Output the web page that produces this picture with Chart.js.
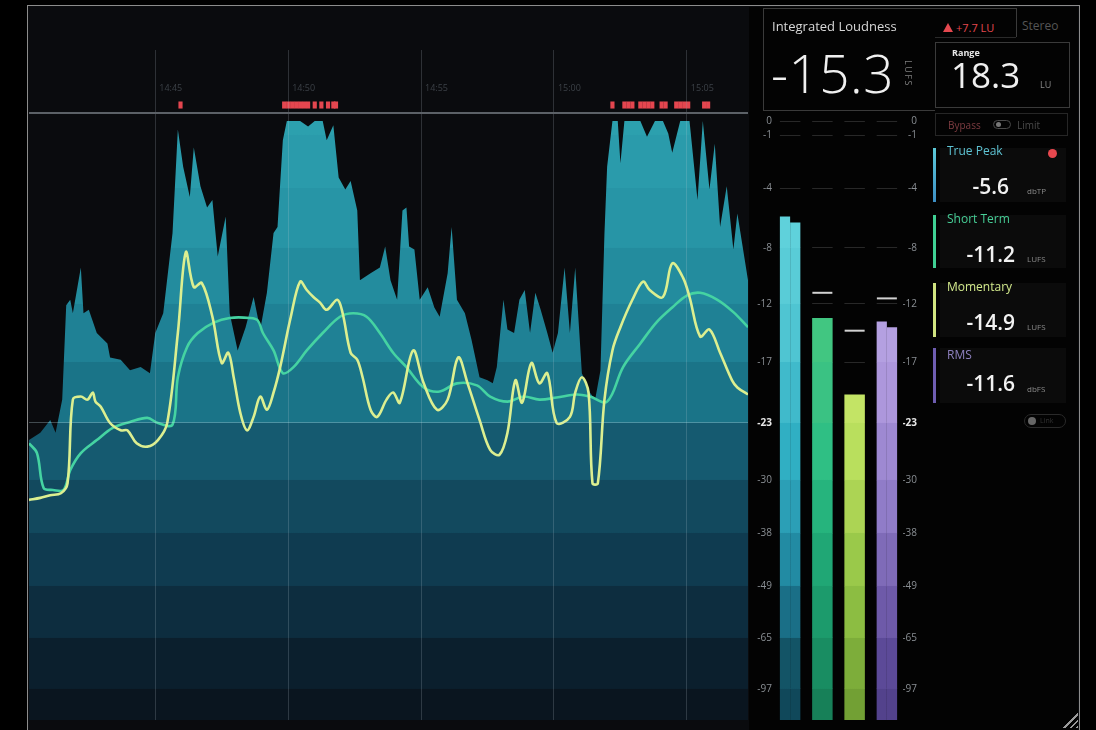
<!DOCTYPE html>
<html>
<head>
<meta charset="utf-8">
<script src="https://cdn.jsdelivr.net/npm/chart.js@4.4.1/dist/chart.umd.min.js"></script>
<style>
html,body{margin:0;padding:0;background:#000;width:1096px;height:730px;overflow:hidden;}
#root{position:relative;width:1096px;height:730px;overflow:hidden;background:#000;font-family:"Open Sans",sans-serif;}
.abs{position:absolute;line-height:1;white-space:nowrap;}
#panel{position:absolute;left:27px;top:5px;width:1053px;height:740px;border:1.5px solid #8c8c8c;box-sizing:border-box;background:#0a0b0e;}
#rightbg{position:absolute;left:749px;top:7px;width:329px;height:723px;background:#030303;}
canvas{position:absolute;}
.ln{position:absolute;background:#3a3a3a;}
.rbox{position:absolute;left:940px;width:126px;background:rgba(255,255,255,0.035);}
.cbar{position:absolute;left:933px;width:3px;}
.lbl{font-size:12px;}
.val{font-size:21px;font-weight:600;color:#f2f2f2;text-align:right;}
.unit{font-size:8px;color:#8a8a8a;}
</style>
</head>
<body>
<div id="root">
  <div id="panel"></div>
  <div id="rightbg"></div>

  <canvas id="hist" width="719" height="670" style="left:29px;top:50px;"></canvas>
  <canvas id="meter" width="171" height="670" style="left:746px;top:50px;"></canvas>

  <!-- header box -->
  <div class="ln" style="left:763px;top:8px;width:253px;height:1px;"></div>
  <div class="ln" style="left:763px;top:8px;width:1px;height:102px;"></div>
  <div class="ln" style="left:1016px;top:8px;width:1px;height:29px;"></div>
  <div class="ln" style="left:763px;top:110px;width:172px;height:1px;"></div>
  <div class="ln" style="left:935px;top:37px;width:81px;height:1px;background:#2a2a2a"></div>
  <div style="position:absolute;left:935px;top:42px;width:135px;height:66px;border:1px solid #3a3a3a;box-sizing:border-box;"></div>
  <div style="position:absolute;left:935px;top:113px;width:133px;height:23px;border:1px solid #262626;box-sizing:border-box;"></div>

  <div class="abs" style="left:772px;top:20px;font-size:13px;color:#d8d8d8;">Integrated Loudness</div>
  <div style="position:absolute;left:943px;top:23px;width:0;height:0;border-left:5px solid transparent;border-right:5px solid transparent;border-bottom:9px solid #e5484f;"></div>
  <div class="abs" style="left:956px;top:22px;font-size:11px;color:#e5484f;">+7.7 LU</div>
  <div class="abs" style="left:1022px;top:20px;font-size:12px;color:#555;">Stereo</div>

  <div class="abs" style="left:771px;top:46px;font-size:53px;font-weight:300;color:#f0f0f0;letter-spacing:0.5px;">-15.3</div>
  <div class="abs" style="left:904px;top:60px;font-size:9px;color:#7d7d7d;writing-mode:vertical-rl;letter-spacing:1.5px;">LUFS</div>

  <div class="abs" style="left:952px;top:48px;font-size:9px;font-weight:700;color:#e8e8e8;">Range</div>
  <div class="abs" style="left:951px;top:57px;font-size:35px;color:#f0f0f0;">18.3</div>
  <div class="abs" style="left:1040px;top:80px;font-size:9px;color:#888;">LU</div>

  <div class="abs" style="left:948px;top:120px;font-size:10px;color:#7f3d42;">Bypass</div>
  <div style="position:absolute;left:993px;top:120px;width:18px;height:9px;border:1px solid #4a4a4a;border-radius:5px;box-sizing:border-box;"></div>
  <div style="position:absolute;left:996px;top:122px;width:5px;height:5px;border-radius:50%;background:#777;"></div>
  <div class="abs" style="left:1017px;top:120px;font-size:10px;color:#4a4a4a;">Limit</div>

  <!-- readouts -->
  <div class="rbox" style="top:148px;height:54px;"></div>
  <div class="rbox" style="top:215px;height:53px;"></div>
  <div class="rbox" style="top:283px;height:54px;"></div>
  <div class="rbox" style="top:348px;height:55px;"></div>

  <div class="cbar" style="top:148px;height:54px;background:linear-gradient(#5cc9d8,#3c8ec4);"></div>
  <div class="cbar" style="top:215px;height:53px;background:#3fcf93;"></div>
  <div class="cbar" style="top:283px;height:54px;background:#cfe27f;"></div>
  <div class="cbar" style="top:348px;height:55px;background:#6d5cb0;"></div>

  <div class="abs lbl" style="left:947px;top:145px;color:#5ec4d4;">True Peak</div>
  <div style="position:absolute;left:1048px;top:149px;width:9px;height:9px;border-radius:50%;background:#e8484f;"></div>
  <div class="abs val" style="right:87px;top:176px;">-5.6</div>
  <div class="abs unit" style="left:1027px;top:187px;">dbTP</div>

  <div class="abs lbl" style="left:947px;top:213px;color:#47cf97;">Short Term</div>
  <div class="abs val" style="right:81px;top:244px;">-11.2</div>
  <div class="abs unit" style="left:1027px;top:255px;">LUFS</div>

  <div class="abs lbl" style="left:947px;top:281px;color:#d3ea8c;">Momentary</div>
  <div class="abs val" style="right:81px;top:312px;">-14.9</div>
  <div class="abs unit" style="left:1027px;top:323px;">LUFS</div>

  <div class="abs lbl" style="left:947px;top:349px;color:#8f82c0;">RMS</div>
  <div class="abs val" style="right:81px;top:373px;">-11.6</div>
  <div class="abs unit" style="left:1027px;top:385px;">dbFS</div>

  <div style="position:absolute;left:1024px;top:414px;width:42px;height:14px;border:1px solid #2a2a2a;border-radius:7px;box-sizing:border-box;"></div>
  <div style="position:absolute;left:1028px;top:417px;width:8px;height:8px;border-radius:50%;background:#666;"></div>
  <div class="abs" style="left:1040px;top:417px;font-size:7px;color:#333;">Link</div>

  <div style="position:absolute;left:1062px;top:712px;width:16px;height:16px;background:repeating-linear-gradient(135deg,transparent 0 3px,#9a9a9a 3px 4.5px);clip-path:polygon(100% 0,100% 100%,0 100%);"></div>
</div>

<script>
// ---------------- DATA ----------------
// time in seconds along the history, values in dB / LUFS
const peakTimes = [0.5,1.35,2.1,2.5,3.0,3.3,3.6,3.8,4.4,4.6,5.0,5.6,6.4,6.6,7.4,8.1,8.9,9.6,10.0,10.6,11.3,11.7,12.1,12.6,12.9,13.4,13.9,14.3,14.7,15.3,15.6,16.2,16.8,17.4,17.9,18.4,18.9,19.2,19.6,19.9,20.9,21.5,22.0,22.6,22.9,23.4,23.8,24.3,24.7,25.2,25.4,26.2,26.9,27.3,27.7,28.2,28.6,28.9,29.1,29.5,29.9,30.5,31.0,31.4,32.0,32.3,32.7,33.3,33.8,34.4,35.0,35.4,35.7,36.2,36.5,37.0,37.4,37.8,38.2,38.6,39.0,39.5,39.9,40.3,40.8,41.2,41.6,42.1,42.7,43.1,43.5,43.8,44.0,44.4,44.8,45.0,45.3,46.5,47.0,47.6,48.2,48.6,48.9,49.5,50.2,50.8,51.2,51.7,52.1,52.5,53.0,53.5,53.8,54.6];
const peakValues = [-25.1,-24.2,-22.7,-24.2,-20.7,-12.1,-11.7,-12.8,-9.4,-12.8,-12.5,-14.5,-15.4,-16.6,-16.8,-17.8,-17.5,-18.1,-14.5,-12.8,-7.0,-0.6,-2.8,-4.6,-1.7,-3.9,-5.3,-4.8,-8.6,-5.9,-12.8,-16.0,-14.0,-11.5,-14.2,-11.2,-7.0,-6.6,-1.3,0,0,-0.4,0,0,-1.3,-0.3,-3.4,-4.1,-3.6,-5.5,-10.3,-9.8,-9.4,-7.9,-10.3,-11.7,-5.5,-5.3,-7.9,-8.1,-11.7,-10.8,-12.3,-13.1,-9.8,-6.6,-11.7,-12.8,-15.1,-18.5,-18.8,-19.1,-17.5,-11.7,-14.2,-14.5,-11.7,-11.0,-14.5,-11.2,-12.5,-14.5,-16.2,-14.5,-9.4,-14.5,-9.4,-18.1,-20.0,-20.7,-17.8,-7.0,-2.8,0,0,-2.6,0,0,-1.1,0,0,-0.9,-2.0,0,0,-4.8,0,-4.1,-1.5,-6.6,-3.9,-8.1,-5.7,-10.3];

const momTimes = [0.5,1.35,2.1,2.9,3.4,3.8,4.4,4.9,5.3,5.5,5.9,6.6,7.4,7.9,8.6,9.4,10.2,10.9,11.7,12.3,12.9,13.5,14.3,15.0,15.5,15.9,16.4,16.9,17.4,17.9,18.4,18.9,19.4,20.2,20.9,21.4,21.9,22.4,22.9,23.7,24.1,24.7,25.2,25.6,26.2,26.7,27.4,27.9,28.4,29.4,30.2,31.2,32.0,32.8,33.5,34.4,35.2,35.9,36.5,37.1,37.6,38.3,38.9,39.5,40.2,41.2,41.6,42.1,42.6,42.9,43.3,43.8,44.4,45.0,45.9,46.7,47.2,48.2,48.9,49.7,50.2,51.0,51.7,52.5,53.4,53.8,54.6];
const momValues = [-33.0,-32.7,-32.3,-32.0,-30.5,-20.7,-20.4,-20.7,-20.0,-20.9,-21.4,-23.0,-23.9,-23.9,-25.5,-25.9,-25.1,-23.0,-14.5,-8.3,-10.8,-10.5,-13.1,-17.1,-16.2,-18.5,-22.0,-23.9,-22.4,-20.4,-21.7,-20.0,-17.5,-13.1,-10.4,-11.0,-11.5,-11.9,-12.5,-11.7,-12.8,-16.2,-16.8,-18.5,-21.7,-22.4,-20.7,-20.0,-21.0,-16.0,-19.1,-21.7,-20.7,-16.6,-19.1,-22.7,-26.3,-26.9,-24.2,-18.8,-21.0,-17.1,-19.1,-18.1,-23.0,-22.4,-20.0,-18.5,-20.0,-30.5,-30.5,-20.7,-16.0,-14.0,-11.7,-10.4,-11.0,-11.5,-9.1,-10.1,-11.5,-14.8,-14.2,-16.2,-18.8,-19.5,-20.2];

const stTimes = [0.5,1.1,1.6,2.3,3.1,3.6,4.4,5.6,6.8,8.1,9.4,10.2,11.3,11.7,12.4,13.2,14.4,15.6,17.1,17.7,18.1,18.9,19.6,20.4,21.4,22.6,23.9,24.9,25.9,26.9,27.9,28.9,30.2,31.4,32.7,34.2,35.2,36.5,37.7,38.9,40.2,41.7,42.7,44.0,45.2,46.5,47.7,48.9,50.0,51.0,52.3,53.5,54.6];
const stValues = [-25.5,-26.7,-31.2,-31.5,-31.5,-28.8,-26.7,-25.1,-23.6,-22.9,-22.5,-23.0,-23.2,-18.5,-15.7,-14.5,-13.6,-13.2,-13.2,-13.4,-14.5,-16.0,-18.1,-17.5,-16.0,-14.5,-13.1,-12.8,-13.1,-14.5,-16.2,-17.5,-19.5,-19.9,-19.1,-19.3,-20.4,-20.9,-20.4,-20.7,-20.5,-20.2,-20.4,-20.9,-17.5,-15.4,-13.6,-12.3,-11.4,-11.2,-11.7,-12.7,-14.0];

// times where the true peak went over
const overTimes = [11.9,19.7,20.0,20.3,20.6,20.9,21.2,21.5,22.0,22.5,23.0,23.4,23.6,44.4,45.3,45.6,45.9,46.5,46.8,47.1,47.4,48.1,48.4,49.2,49.5,49.8,50.1,51.3,51.6];

const gridTimes = [10,20,30,40,50];
const timeLabels = ["14:45","14:50","14:55","15:00","15:05"];

const meterTickValues = [0,-1,-4,-8,-12,-17,-23,-30,-38,-49,-65,-97];
const meterLabels = ["True Peak","Short Term","Momentary","RMS"];
const meterLeft  = [-5.9,-13.2,-20.2,-13.5];
const meterRight = [-6.3,null,null,-14.0];
const meterHold  = [null,-11.2,-14.3,-11.6];

// ---------------- SCALE / STYLE ----------------
const SCALE_MAX = 8.875, SCALE_MIN = -200;
const SCALE_BREAKS = [[8.875,0],[0,0.106],[-1,0.1269],[-4,0.206],[-8,0.2955],[-12,0.3791],[-17,0.4657],[-23,0.5567],[-30,0.6418],[-38,0.7209],[-49,0.8],[-65,0.8776],[-97,0.9537],[-200,1]];
const BAND_EDGES = [0,-1,-4,-8,-12,-17,-23,-30,-38,-49,-65,-97];
const OVER_ROW = [1.6,2.4];

const histColors = ['#2ca0ae','#2ca0ae','#2a9bab','#2795a6','#238c9e','#1f8195','#1a7488','#155a70','#12495e','#0f3b50','#0d2d3f','#0b1f2d','#0a151f'];
const meterColorSets = [
  ['#66d8e0','#66d8e0','#63d5de','#5fd1db','#59ccd7','#4fc5d2','#40bacb','#30afc3','#2b9fb6','#228ba3','#1a6f87','#135466','#10485a'],
  ['#4acc84','#4acc84','#4acc84','#48cb83','#46c982','#41c681','#3ac283','#2fbf84','#26b47d','#20a775','#1c9b6c','#198d62','#178058'],
  ['#cdea6e','#cdea6e','#cdea6e','#cdea6e','#cbe96c','#c9e86a','#c3e465','#b9df5d','#acd454','#9ac94a','#8cbd42','#7dad3a','#72a034'],
  ['#bba6e5','#bba6e5','#bba6e5','#b9a5e4','#b8a3e3','#b4a0e1','#ad97dc','#9e89d2','#907cc8','#7f6bb8','#6e5aa9','#5c4a98','#53428c']
];

class MeterScale extends Chart.LinearScale {
  determineDataLimits() { this.min = this.options.min; this.max = this.options.max; }
  buildTicks() { return this.options.tickValues.map(v => ({ value: v })); }
  _frac(value) {
    const bp = this.options.breakpoints;
    if (value >= bp[0][0]) return bp[0][1];
    if (value <= bp[bp.length - 1][0]) return bp[bp.length - 1][1];
    for (let i = 0; i < bp.length - 1; i++) {
      const [v0, f0] = bp[i], [v1, f1] = bp[i + 1];
      if (value <= v0 && value >= v1) return f0 + (f1 - f0) * (v0 - value) / (v0 - v1);
    }
    return 1;
  }
  getPixelForValue(value) { return this.top + this._frac(value) * (this.bottom - this.top); }
  getValueForPixel(pixel) {
    const f = (pixel - this.top) / (this.bottom - this.top);
    const bp = this.options.breakpoints;
    for (let i = 0; i < bp.length - 1; i++) {
      const [v0, f0] = bp[i], [v1, f1] = bp[i + 1];
      if (f >= f0 && f <= f1) return v0 - (v0 - v1) * (f - f0) / (f1 - f0);
    }
    return f < 0 ? bp[0][0] : bp[bp.length - 1][0];
  }
}
MeterScale.id = 'meter';
MeterScale.defaults = {};
Chart.register(MeterScale);

Chart.defaults.font.family = '"Open Sans", sans-serif';

function bandGradient(chart, colors) {
  const { ctx, chartArea, scales } = chart;
  if (!chartArea) return colors[0];
  const y = scales.y;
  const top = chartArea.top, h = chartArea.bottom - chartArea.top;
  const edges = [y.max, ...BAND_EDGES, y.min];
  const g = ctx.createLinearGradient(0, top, 0, chartArea.bottom);
  for (let i = 0; i < edges.length - 1; i++) {
    const a = Math.min(1, Math.max(0, (y.getPixelForValue(edges[i]) - top) / h));
    const b = Math.min(1, Math.max(0, (y.getPixelForValue(edges[i + 1]) - top) / h));
    g.addColorStop(a, colors[i]);
    g.addColorStop(Math.max(a, b - 0.0008), colors[i]);
  }
  return g;
}

const zip = (xs, ys) => xs.map((x, i) => ({ x, y: ys[i] }));

const timeLabelPlugin = {
  id: 'timeLabels',
  afterDraw(chart) {
    const { ctx, scales: { x } } = chart;
    ctx.save();
    ctx.font = '9px "Open Sans", sans-serif';
    ctx.fillStyle = '#3c4147';
    ctx.textBaseline = 'middle';
    x.ticks.forEach((t, i) => {
      if (timeLabels[i]) ctx.fillText(timeLabels[i], x.getPixelForValue(t.value) + 4, 38);
    });
    ctx.restore();
  }
};

// ---------------- HISTORY CHART ----------------
new Chart(document.getElementById('hist'), {
  type: 'line',
  data: {
    datasets: [
      { label: 'Momentary', data: zip(momTimes, momValues), borderColor: '#dcef90', borderWidth: 2.6,
        pointRadius: 0, tension: 0.35, fill: false, order: 0 },
      { label: 'Short Term', data: zip(stTimes, stValues), borderColor: '#45d3a2', borderWidth: 2.6,
        pointRadius: 0, tension: 0.35, fill: false, order: 1 },
      { label: 'True Peak', data: zip(peakTimes, peakValues), borderWidth: 0, borderColor: 'rgba(0,0,0,0)',
        backgroundColor: (c) => bandGradient(c.chart, histColors), fill: 'start', pointRadius: 0, tension: 0, order: 2 },
      { type: 'bar', label: 'Overs', data: overTimes.map(t => ({ x: t, y: OVER_ROW })), backgroundColor: '#e4464f',
        barThickness: 3.5, borderWidth: 0, order: 3 }
    ]
  },
  options: {
    responsive: false, animation: false, events: [],
    layout: { padding: 0, autoPadding: false },
    plugins: { legend: { display: false }, tooltip: { enabled: false } },
    scales: {
      x: { type: 'linear', min: 0.5, max: 54.6, offset: false,
        afterBuildTicks: (s) => { s.ticks = gridTimes.map(v => ({ value: v })); },
        ticks: { display: false },
        grid: { color: 'rgba(190,205,215,0.2)', lineWidth: 1, drawTicks: false, z: 1, offset: false },
        border: { display: false } },
      y: { type: 'meter', min: SCALE_MIN, max: SCALE_MAX, breakpoints: SCALE_BREAKS, tickValues: [1, -23],
        ticks: { display: false },
        grid: { color: (c) => (c.tick && c.tick.value === 1) ? '#5c6167' : 'rgba(200,225,235,0.3)',
                lineWidth: (c) => (c.tick && c.tick.value === 1) ? 2 : 1, drawTicks: false, z: 1 },
        border: { display: false } }
    }
  },
  plugins: [timeLabelPlugin]
});

// ---------------- METER CHART ----------------
const floatBar = (arr) => arr.map(v => v == null ? null : [SCALE_MIN, v]);
const meterBg = (c) => (c.dataIndex == null) ? '#444' : bandGradient(c.chart, meterColorSets[c.dataIndex]);
const meterTickFont = (c) => ({ size: 10, weight: (c.tick && c.tick.value === -23) ? 'bold' : 'normal' });
const meterTickColor = (c) => (c.tick && c.tick.value === -23) ? '#e6e6e6' : '#8a8f94';
const noPad = (w) => (s) => { s.width = w; s.paddingTop = 0; s.paddingBottom = 0; };

new Chart(document.getElementById('meter'), {
  type: 'bar',
  data: {
    labels: meterLabels,
    datasets: [
      { type: 'line', label: 'Hold', data: meterHold, showLine: false, pointStyle: 'line', pointRadius: 10,
        pointBorderWidth: 2, pointBorderColor: '#d2d2d2', borderColor: '#d2d2d2', order: 0 },
      { label: 'L', data: floatBar(meterLeft), backgroundColor: meterBg, skipNull: true, borderWidth: 0, order: 1 },
      { label: 'R', data: floatBar(meterRight), backgroundColor: meterBg, skipNull: true, borderWidth: 0, order: 1 }
    ]
  },
  options: {
    responsive: false, animation: false, events: [],
    layout: { padding: 0, autoPadding: false },
    plugins: { legend: { display: false }, tooltip: { enabled: false } },
    datasets: { bar: { categoryPercentage: 0.635, barPercentage: 1 } },
    scales: {
      x: { display: false },
      y: { type: 'meter', position: 'left', min: SCALE_MIN, max: SCALE_MAX, breakpoints: SCALE_BREAKS,
        tickValues: meterTickValues,
        afterFit: noPad(28),
        ticks: { padding: 2, font: meterTickFont, color: meterTickColor, callback: (v) => String(v) },
        grid: { color: 'rgba(255,255,255,0.15)', lineWidth: 1, drawTicks: false },
        border: { display: false, dash: [20.5, 11.75], dashOffset: 26.35 } },
      y2: { type: 'meter', position: 'right', min: SCALE_MIN, max: SCALE_MAX, breakpoints: SCALE_BREAKS,
        tickValues: meterTickValues,
        afterFit: noPad(14),
        ticks: { padding: 0, crossAlign: 'far', font: meterTickFont, color: meterTickColor, callback: (v) => String(v) },
        grid: { display: false, drawTicks: false },
        border: { display: false } }
    }
  }
});
</script>
</body>
</html>
